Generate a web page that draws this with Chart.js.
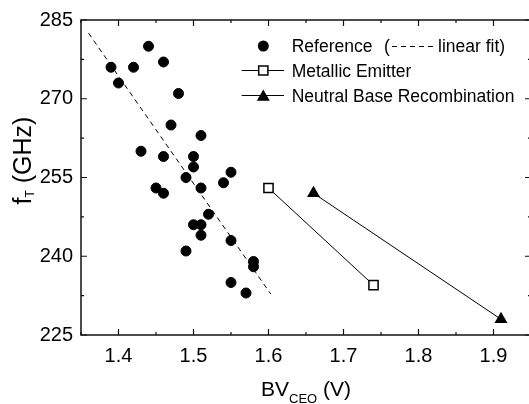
<!DOCTYPE html>
<html><head><meta charset="utf-8">
<script src="https://cdn.jsdelivr.net/npm/chart.js@4/dist/chart.umd.min.js"></script>
<style>html,body{margin:0;padding:0;background:#fff;overflow:hidden;width:529px;height:404px}canvas{display:block}</style>
</head><body>
<canvas id="c" width="540" height="404"></canvas>
<script>
// Reference devices (scatter)
const refX = [1.39,1.40,1.44,1.42,1.46,1.48,1.47,1.51,1.43,1.46,1.50,1.50,1.55,1.45,1.46,1.49,1.51,1.54,1.52,1.50,1.51,1.51,1.49,1.55,1.58,1.58,1.55,1.57];
const refY = [276,273,280,276,277,271,265,263,260,259,259,257,256,253,252,255,253,254,248,246,246,244,241,243,239,238,235,233];
// linear fit end points
const fitX = [1.36, 1.603];
const fitY = [282.5, 232.8];
// Metallic Emitter
const metalX = [1.60, 1.74];
const metalY = [253, 234.5];
// Neutral Base Recombination
const nbrX = [1.66, 1.91];
const nbrY = [252, 228];
// axes
const xTicks = [1.4,1.5,1.6,1.7,1.8,1.9];
const yTicks = [225,240,255,270,285];
const xMinorTicks = [1.35,1.45,1.55,1.65,1.75,1.85,1.95];
const yMinorTicks = [232.5,247.5,262.5,277.5];
const legendLabels = ['Reference', 'Metallic Emitter', 'Neutral Base Recombination'];
const fitLabel = ['(', 'linear fit)'];
const xTitle = ['BV', 'CEO', ' (V)'];
const yTitle = ['f', 'T', ' (GHz)'];

const FONT = '"Liberation Sans", Arial, Helvetica, sans-serif';
const pts = (xs, ys) => xs.map((x, i) => ({x: x, y: ys[i]}));

const framePlugin = {
  id: 'frame',
  beforeDatasetsDraw(chart) {
    const {ctx, chartArea: a, scales} = chart;
    const xs = scales.x, ys = scales.y;
    ctx.save();
    ctx.strokeStyle = '#111';
    ctx.lineWidth = 1.5;
    ctx.strokeRect(a.left, a.top, a.right - a.left, a.bottom - a.top);
    ctx.lineWidth = 1.2;
    ctx.beginPath();
    const tick = (vals, len) => {
      vals.forEach(v => {
        const px = xs.getPixelForValue(v);
        ctx.moveTo(px, a.bottom); ctx.lineTo(px, a.bottom - len);
        ctx.moveTo(px, a.top); ctx.lineTo(px, a.top + len);
      });
    };
    const tickY = (vals, len) => {
      vals.forEach(v => {
        const py = ys.getPixelForValue(v);
        ctx.moveTo(a.left, py); ctx.lineTo(a.left + len, py);
        ctx.moveTo(a.right, py); ctx.lineTo(a.right - len, py);
      });
    };
    tick(xTicks, 6); tick(xMinorTicks, 3);
    tickY(yTicks, 6); tickY(yMinorTicks, 3);
    ctx.stroke();
    ctx.restore();
  },
  afterDraw(chart) {
    const {ctx, chartArea: a} = chart;
    const H = Chart.helpers;
    ctx.save();
    ctx.fillStyle = '#000';
    ctx.strokeStyle = '#000';
    // ----- legend -----
    const mx = 263.3, tx = 291.7;
    const rows = [46, 70.5, 95.5];
    ctx.font = '17.5px ' + FONT;
    ctx.textBaseline = 'alphabetic';
    ctx.textAlign = 'left';
    // row 1
    ctx.beginPath(); ctx.arc(mx, rows[0], 5.5, 0, Math.PI * 2); ctx.fill();
    ctx.fillText(legendLabels[0], tx, rows[0] + 6);
    ctx.fillText(fitLabel[0], 384, rows[0] + 6);
    ctx.save();
    ctx.lineWidth = 1; ctx.setLineDash([5, 4]);
    ctx.beginPath(); ctx.moveTo(392, rows[0] + 0.5); ctx.lineTo(433, rows[0] + 0.5); ctx.stroke();
    ctx.restore();
    ctx.fillText(fitLabel[1], 438, rows[0] + 6);
    // row 2
    ctx.lineWidth = 1;
    ctx.beginPath(); ctx.moveTo(241.7, rows[1]); ctx.lineTo(284, rows[1]); ctx.stroke();
    ctx.fillStyle = '#fff'; ctx.lineWidth = 1.5;
    H.drawPoint(ctx, {pointStyle: 'rect', radius: 6.5, rotation: 0, borderWidth: 1.5}, mx, rows[1]);
    ctx.fillStyle = '#000';
    ctx.fillText(legendLabels[1], tx, rows[1] + 6);
    // row 3
    ctx.lineWidth = 1;
    ctx.beginPath(); ctx.moveTo(241.7, rows[2]); ctx.lineTo(284, rows[2]); ctx.stroke();
    H.drawPoint(ctx, {pointStyle: 'triangle', radius: 7.5, rotation: 0, borderWidth: 0}, mx, rows[2] + 1.5);
    ctx.fillText(legendLabels[2], tx, rows[2] + 6);

    // ----- x title -----
    const big = '21px ' + FONT, small = '13px ' + FONT;
    ctx.font = big; const w1 = ctx.measureText(xTitle[0]).width, w3 = ctx.measureText(xTitle[2]).width;
    ctx.font = small; const w2 = ctx.measureText(xTitle[1]).width;
    const cx = (a.left + a.right) / 2;
    let x0 = cx - (w1 + w2 + w3) / 2;
    const base = 396;
    ctx.font = big; ctx.fillText(xTitle[0], x0, base);
    ctx.font = small; ctx.fillText(xTitle[1], x0 + w1, base + 7);
    ctx.font = big; ctx.fillText(xTitle[2], x0 + w1 + w2, base);

    // ----- y title -----
    const ybig = '25px ' + FONT, ysmall = '12px ' + FONT;
    ctx.font = ybig; const v1 = ctx.measureText(yTitle[0]).width, v3 = ctx.measureText(yTitle[2]).width;
    ctx.font = ysmall; const v2 = ctx.measureText(yTitle[1]).width;
    ctx.translate(31, 160.5);
    ctx.rotate(-Math.PI / 2);
    let y0 = -(v1 + v2 + v3) / 2;
    ctx.font = ybig; ctx.fillText(yTitle[0], y0, 0);
    ctx.font = ysmall; ctx.fillText(yTitle[1], y0 + v1, 3);
    ctx.font = ybig; ctx.fillText(yTitle[2], y0 + v1 + v2, 0);
    ctx.restore();
  }
};

new Chart(document.getElementById('c'), {
  type: 'scatter',
  data: {
    datasets: [
      {label: 'linear fit', data: pts(fitX, fitY), showLine: true, borderColor: '#000', borderWidth: 1,
       borderDash: [5, 4], pointRadius: 0, order: 4},
      {label: legendLabels[0], data: pts(refX, refY), pointStyle: 'circle', pointRadius: 5,
       backgroundColor: '#000', borderColor: '#000', borderWidth: 1, order: 3},
      {label: legendLabels[1], data: pts(metalX, metalY), showLine: true, borderColor: '#000', borderWidth: 1,
       pointStyle: 'rect', pointRadius: 6.5, pointBackgroundColor: '#fff', pointBorderColor: '#000',
       pointBorderWidth: 1.5, order: 2},
      {label: legendLabels[2], data: pts(nbrX, nbrY), showLine: true, borderColor: '#000', borderWidth: 1,
       pointStyle: 'triangle', pointRadius: 7.5, pointBackgroundColor: '#000', pointBorderColor: '#000',
       pointBorderWidth: 0, order: 1}
    ]
  },
  options: {
    responsive: false,
    animation: false,
    devicePixelRatio: 1,
    layout: {padding: {left: 0, top: 15, right: 9, bottom: 0}},
    plugins: {legend: {display: false}, tooltip: {enabled: false}},
    scales: {
      x: {
        type: 'linear', min: 1.35, max: 1.95,
        afterBuildTicks: s => { s.ticks = xTicks.map(v => ({value: v})); },
        afterFit: s => { s.height = 69; },
        grid: {display: false, drawTicks: false},
        border: {display: false},
        ticks: {color: '#000', font: {family: FONT, size: 20}, padding: 9, maxRotation: 0,
                callback: v => Number(v).toFixed(1)}
      },
      y: {
        type: 'linear', min: 225, max: 285,
        afterBuildTicks: s => { s.ticks = yTicks.map(v => ({value: v})); },
        afterFit: s => { s.width = 81; },
        grid: {display: false, drawTicks: false},
        border: {display: false},
        ticks: {color: '#000', font: {family: FONT, size: 20}, padding: 8,
                callback: v => String(v)}
      }
    }
  },
  plugins: [framePlugin]
});
</script>
</body></html>
